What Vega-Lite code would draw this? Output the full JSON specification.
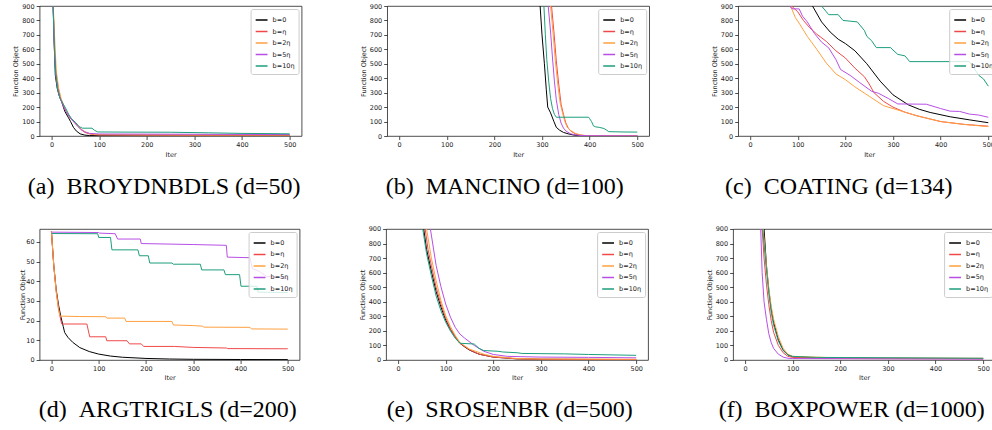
{
"$schema": "https://vega.github.io/schema/vega-lite/v6.json",
"background": "white",
"padding": {"left": 11.6, "top": 2, "right": 0, "bottom": 0},
"config": {
  "view": {"stroke": "#222", "strokeWidth": 0.8},
  "axis": {"labelFont": "DejaVu Sans", "labelFontSize": 6.5, "titleFont": "DejaVu Sans", "titleFontSize": 6.5, "titleFontWeight": "normal", "labelColor": "#222", "titleColor": "#222", "tickColor": "#222", "tickSize": 3.5, "tickWidth": 0.8, "domain": false, "grid": false, "labelPadding": 2, "titlePadding": 3},
  "legend": {"orient": "top-right", "offset": 3, "strokeColor": "#cccccc", "fillColor": "rgba(255,255,255,0.8)", "padding": 4, "cornerRadius": 2, "symbolType": "stroke", "symbolSize": 140, "symbolStrokeWidth": 1.5, "labelFont": "DejaVu Sans", "labelFontSize": 6.5, "labelColor": "#222", "rowPadding": 0.5},
  "title": {"font": "Liberation Serif", "fontSize": 24, "fontWeight": "normal", "color": "black", "orient": "bottom", "anchor": "middle", "frame": "bounds", "offset": 17}
},
"datasets": {
"a": [
{"s":"b=0","x":0,"y":3000},{"s":"b=0","x":3,"y":950},{"s":"b=0","x":5,"y":700},{"s":"b=0","x":8,"y":420},{"s":"b=0","x":12,"y":330},{"s":"b=0","x":16,"y":280},{"s":"b=0","x":21,"y":240},{"s":"b=0","x":28,"y":170},{"s":"b=0","x":35,"y":130},{"s":"b=0","x":40,"y":100},{"s":"b=0","x":46,"y":60},{"s":"b=0","x":52,"y":35},{"s":"b=0","x":60,"y":15},{"s":"b=0","x":70,"y":6},{"s":"b=0","x":80,"y":3},{"s":"b=0","x":100,"y":2},{"s":"b=0","x":200,"y":1},{"s":"b=0","x":500,"y":1},
{"s":"b=η","x":0,"y":3000},{"s":"b=η","x":3,"y":950},{"s":"b=η","x":6,"y":650},{"s":"b=η","x":9,"y":450},{"s":"b=η","x":14,"y":330},{"s":"b=η","x":20,"y":250},{"s":"b=η","x":25,"y":210},{"s":"b=η","x":32,"y":160},{"s":"b=η","x":40,"y":120},{"s":"b=η","x":48,"y":95},{"s":"b=η","x":55,"y":70},{"s":"b=η","x":62,"y":45},{"s":"b=η","x":70,"y":25},{"s":"b=η","x":80,"y":14},{"s":"b=η","x":90,"y":9},{"s":"b=η","x":100,"y":8},{"s":"b=η","x":200,"y":7},{"s":"b=η","x":300,"y":6},{"s":"b=η","x":500,"y":6},
{"s":"b=2η","x":0,"y":3000},{"s":"b=2η","x":3,"y":950},{"s":"b=2η","x":7,"y":650},{"s":"b=2η","x":10,"y":450},{"s":"b=2η","x":15,"y":330},{"s":"b=2η","x":20,"y":260},{"s":"b=2η","x":26,"y":210},{"s":"b=2η","x":32,"y":165},{"s":"b=2η","x":40,"y":125},{"s":"b=2η","x":48,"y":100},{"s":"b=2η","x":55,"y":75},{"s":"b=2η","x":62,"y":48},{"s":"b=2η","x":70,"y":30},{"s":"b=2η","x":80,"y":17},{"s":"b=2η","x":90,"y":11},{"s":"b=2η","x":100,"y":9},{"s":"b=2η","x":200,"y":8},{"s":"b=2η","x":300,"y":7},{"s":"b=2η","x":500,"y":7},
{"s":"b=5η","x":0,"y":3000},{"s":"b=5η","x":3,"y":950},{"s":"b=5η","x":6,"y":600},{"s":"b=5η","x":9,"y":420},{"s":"b=5η","x":13,"y":330},{"s":"b=5η","x":18,"y":260},{"s":"b=5η","x":24,"y":215},{"s":"b=5η","x":30,"y":170},{"s":"b=5η","x":38,"y":130},{"s":"b=5η","x":46,"y":100},{"s":"b=5η","x":54,"y":70},{"s":"b=5η","x":62,"y":45},{"s":"b=5η","x":70,"y":28},{"s":"b=5η","x":80,"y":18},{"s":"b=5η","x":100,"y":14},{"s":"b=5η","x":200,"y":13},{"s":"b=5η","x":300,"y":12},{"s":"b=5η","x":400,"y":11},{"s":"b=5η","x":500,"y":10},
{"s":"b=10η","x":0,"y":3000},{"s":"b=10η","x":3,"y":950},{"s":"b=10η","x":6,"y":620},{"s":"b=10η","x":9,"y":430},{"s":"b=10η","x":13,"y":320},{"s":"b=10η","x":18,"y":260},{"s":"b=10η","x":24,"y":225},{"s":"b=10η","x":30,"y":190},{"s":"b=10η","x":36,"y":150},{"s":"b=10η","x":42,"y":120},{"s":"b=10η","x":50,"y":95},{"s":"b=10η","x":58,"y":65},{"s":"b=10η","x":65,"y":54},{"s":"b=10η","x":85,"y":54},{"s":"b=10η","x":90,"y":40},{"s":"b=10η","x":97,"y":28},{"s":"b=10η","x":150,"y":27},{"s":"b=10η","x":250,"y":26},{"s":"b=10η","x":330,"y":22},{"s":"b=10η","x":400,"y":18},{"s":"b=10η","x":480,"y":16},{"s":"b=10η","x":500,"y":15}
],
"b": [
{"s":"b=0","x":290,"y":1500},{"s":"b=0","x":296,"y":900},{"s":"b=0","x":300,"y":700},{"s":"b=0","x":305,"y":500},{"s":"b=0","x":309,"y":320},{"s":"b=0","x":312,"y":200},{"s":"b=0","x":318,"y":160},{"s":"b=0","x":325,"y":100},{"s":"b=0","x":330,"y":60},{"s":"b=0","x":337,"y":40},{"s":"b=0","x":345,"y":25},{"s":"b=0","x":355,"y":15},{"s":"b=0","x":365,"y":8},{"s":"b=0","x":375,"y":3},{"s":"b=0","x":385,"y":1},{"s":"b=0","x":500,"y":0.5},
{"s":"b=η","x":314,"y":1500},{"s":"b=η","x":320,"y":900},{"s":"b=η","x":325,"y":720},{"s":"b=η","x":330,"y":520},{"s":"b=η","x":335,"y":360},{"s":"b=η","x":340,"y":220},{"s":"b=η","x":345,"y":150},{"s":"b=η","x":350,"y":90},{"s":"b=η","x":355,"y":55},{"s":"b=η","x":360,"y":35},{"s":"b=η","x":370,"y":15},{"s":"b=η","x":380,"y":6},{"s":"b=η","x":390,"y":3},{"s":"b=η","x":400,"y":2},{"s":"b=η","x":500,"y":1},
{"s":"b=2η","x":312,"y":1500},{"s":"b=2η","x":318,"y":900},{"s":"b=2η","x":323,"y":720},{"s":"b=2η","x":328,"y":520},{"s":"b=2η","x":333,"y":360},{"s":"b=2η","x":338,"y":230},{"s":"b=2η","x":343,"y":160},{"s":"b=2η","x":348,"y":100},{"s":"b=2η","x":353,"y":60},{"s":"b=2η","x":360,"y":38},{"s":"b=2η","x":370,"y":18},{"s":"b=2η","x":380,"y":8},{"s":"b=2η","x":390,"y":4},{"s":"b=2η","x":400,"y":2},{"s":"b=2η","x":500,"y":1},
{"s":"b=5η","x":308,"y":1500},{"s":"b=5η","x":313,"y":900},{"s":"b=5η","x":318,"y":720},{"s":"b=5η","x":322,"y":540},{"s":"b=5η","x":326,"y":380},{"s":"b=5η","x":330,"y":250},{"s":"b=5η","x":335,"y":150},{"s":"b=5η","x":340,"y":90},{"s":"b=5η","x":345,"y":55},{"s":"b=5η","x":350,"y":35},{"s":"b=5η","x":360,"y":15},{"s":"b=5η","x":370,"y":8},{"s":"b=5η","x":380,"y":4},{"s":"b=5η","x":400,"y":2},{"s":"b=5η","x":500,"y":1},
{"s":"b=10η","x":298,"y":1500},{"s":"b=10η","x":304,"y":900},{"s":"b=10η","x":307,"y":700},{"s":"b=10η","x":310,"y":530},{"s":"b=10η","x":314,"y":380},{"s":"b=10η","x":318,"y":260},{"s":"b=10η","x":322,"y":190},{"s":"b=10η","x":326,"y":150},{"s":"b=10η","x":330,"y":130},{"s":"b=10η","x":398,"y":130},{"s":"b=10η","x":400,"y":120},{"s":"b=10η","x":404,"y":100},{"s":"b=10η","x":408,"y":70},{"s":"b=10η","x":413,"y":63},{"s":"b=10η","x":420,"y":60},{"s":"b=10η","x":430,"y":52},{"s":"b=10η","x":435,"y":42},{"s":"b=10η","x":440,"y":30},{"s":"b=10η","x":470,"y":28},{"s":"b=10η","x":500,"y":27}
],
"c": [
{"s":"b=0","x":120,"y":1050},{"s":"b=0","x":131,"y":900},{"s":"b=0","x":150,"y":790},{"s":"b=0","x":168,"y":720},{"s":"b=0","x":185,"y":670},{"s":"b=0","x":200,"y":640},{"s":"b=0","x":220,"y":590},{"s":"b=0","x":245,"y":500},{"s":"b=0","x":273,"y":380},{"s":"b=0","x":300,"y":285},{"s":"b=0","x":332,"y":216},{"s":"b=0","x":355,"y":185},{"s":"b=0","x":378,"y":163},{"s":"b=0","x":420,"y":133},{"s":"b=0","x":460,"y":112},{"s":"b=0","x":500,"y":92},
{"s":"b=η","x":80,"y":1000},{"s":"b=η","x":87,"y":900},{"s":"b=η","x":100,"y":860},{"s":"b=η","x":112,"y":800},{"s":"b=η","x":125,"y":750},{"s":"b=η","x":140,"y":705},{"s":"b=η","x":160,"y":655},{"s":"b=η","x":180,"y":590},{"s":"b=η","x":200,"y":540},{"s":"b=η","x":220,"y":470},{"s":"b=η","x":240,"y":410},{"s":"b=η","x":250,"y":360},{"s":"b=η","x":260,"y":300},{"s":"b=η","x":280,"y":240},{"s":"b=η","x":300,"y":200},{"s":"b=η","x":325,"y":165},{"s":"b=η","x":350,"y":140},{"s":"b=η","x":400,"y":100},{"s":"b=η","x":450,"y":80},{"s":"b=η","x":500,"y":68},
{"s":"b=2η","x":78,"y":1000},{"s":"b=2η","x":85,"y":900},{"s":"b=2η","x":95,"y":820},{"s":"b=2η","x":105,"y":770},{"s":"b=2η","x":120,"y":690},{"s":"b=2η","x":140,"y":600},{"s":"b=2η","x":160,"y":505},{"s":"b=2η","x":180,"y":430},{"s":"b=2η","x":200,"y":390},{"s":"b=2η","x":220,"y":340},{"s":"b=2η","x":250,"y":275},{"s":"b=2η","x":280,"y":210},{"s":"b=2η","x":300,"y":190},{"s":"b=2η","x":350,"y":140},{"s":"b=2η","x":400,"y":100},{"s":"b=2η","x":450,"y":80},{"s":"b=2η","x":500,"y":65},
{"s":"b=5η","x":78,"y":1000},{"s":"b=5η","x":85,"y":890},{"s":"b=5η","x":90,"y":880},{"s":"b=5η","x":103,"y":880},{"s":"b=5η","x":110,"y":830},{"s":"b=5η","x":120,"y":790},{"s":"b=5η","x":135,"y":710},{"s":"b=5η","x":150,"y":650},{"s":"b=5η","x":165,"y":610},{"s":"b=5η","x":180,"y":530},{"s":"b=5η","x":190,"y":460},{"s":"b=5η","x":210,"y":420},{"s":"b=5η","x":230,"y":370},{"s":"b=5η","x":255,"y":310},{"s":"b=5η","x":270,"y":295},{"s":"b=5η","x":290,"y":260},{"s":"b=5η","x":310,"y":222},{"s":"b=5η","x":370,"y":220},{"s":"b=5η","x":400,"y":190},{"s":"b=5η","x":420,"y":172},{"s":"b=5η","x":440,"y":170},{"s":"b=5η","x":460,"y":152},{"s":"b=5η","x":480,"y":145},{"s":"b=5η","x":500,"y":130},
{"s":"b=10η","x":140,"y":1050},{"s":"b=10η","x":150,"y":900},{"s":"b=10η","x":160,"y":860},{"s":"b=10η","x":165,"y":840},{"s":"b=10η","x":185,"y":840},{"s":"b=10η","x":195,"y":800},{"s":"b=10η","x":225,"y":790},{"s":"b=10η","x":240,"y":730},{"s":"b=10η","x":245,"y":690},{"s":"b=10η","x":255,"y":660},{"s":"b=10η","x":265,"y":612},{"s":"b=10η","x":295,"y":612},{"s":"b=10η","x":300,"y":595},{"s":"b=10η","x":310,"y":565},{"s":"b=10η","x":325,"y":555},{"s":"b=10η","x":335,"y":515},{"s":"b=10η","x":460,"y":515},{"s":"b=10η","x":470,"y":470},{"s":"b=10η","x":480,"y":420},{"s":"b=10η","x":490,"y":395},{"s":"b=10η","x":500,"y":345}
],
"d": [
{"s":"b=0","x":0,"y":65.5},{"s":"b=0","x":5,"y":48},{"s":"b=0","x":10,"y":36},{"s":"b=0","x":15,"y":28},{"s":"b=0","x":20,"y":22},{"s":"b=0","x":25,"y":17},{"s":"b=0","x":28,"y":14},{"s":"b=0","x":35,"y":11.5},{"s":"b=0","x":45,"y":9},{"s":"b=0","x":60,"y":6.3},{"s":"b=0","x":80,"y":4.3},{"s":"b=0","x":100,"y":3},{"s":"b=0","x":125,"y":2},{"s":"b=0","x":150,"y":1.4},{"s":"b=0","x":200,"y":0.8},{"s":"b=0","x":250,"y":0.5},{"s":"b=0","x":300,"y":0.35},{"s":"b=0","x":400,"y":0.25},{"s":"b=0","x":500,"y":0.2},
{"s":"b=η","x":0,"y":65.5},{"s":"b=η","x":5,"y":48},{"s":"b=η","x":10,"y":35},{"s":"b=η","x":15,"y":26},{"s":"b=η","x":20,"y":20},{"s":"b=η","x":22,"y":18.3},{"s":"b=η","x":75,"y":18.3},{"s":"b=η","x":81,"y":11.8},{"s":"b=η","x":115,"y":11.8},{"s":"b=η","x":117,"y":9.8},{"s":"b=η","x":160,"y":9.8},{"s":"b=η","x":165,"y":8.2},{"s":"b=η","x":190,"y":8.2},{"s":"b=η","x":195,"y":6.9},{"s":"b=η","x":260,"y":6.9},{"s":"b=η","x":300,"y":6.4},{"s":"b=η","x":370,"y":6.1},{"s":"b=η","x":372,"y":5.8},{"s":"b=η","x":500,"y":5.7},
{"s":"b=2η","x":0,"y":65.5},{"s":"b=2η","x":5,"y":48},{"s":"b=2η","x":10,"y":35},{"s":"b=2η","x":15,"y":26},{"s":"b=2η","x":18,"y":22.3},{"s":"b=2η","x":60,"y":22.1},{"s":"b=2η","x":115,"y":22},{"s":"b=2η","x":117,"y":21.3},{"s":"b=2η","x":155,"y":21.3},{"s":"b=2η","x":158,"y":19.6},{"s":"b=2η","x":255,"y":19.6},{"s":"b=2η","x":258,"y":17.8},{"s":"b=2η","x":300,"y":17.5},{"s":"b=2η","x":320,"y":17.2},{"s":"b=2η","x":322,"y":16.7},{"s":"b=2η","x":420,"y":16.6},{"s":"b=2η","x":423,"y":15.8},{"s":"b=2η","x":500,"y":15.7},
{"s":"b=5η","x":0,"y":65},{"s":"b=5η","x":100,"y":64.8},{"s":"b=5η","x":102,"y":64.5},{"s":"b=5η","x":135,"y":64.2},{"s":"b=5η","x":140,"y":61.5},{"s":"b=5η","x":188,"y":61.5},{"s":"b=5η","x":190,"y":59.2},{"s":"b=5η","x":300,"y":58.7},{"s":"b=5η","x":370,"y":58.3},{"s":"b=5η","x":372,"y":52.3},{"s":"b=5η","x":420,"y":52},{"s":"b=5η","x":425,"y":46.5},{"s":"b=5η","x":440,"y":45},{"s":"b=5η","x":455,"y":42.5},{"s":"b=5η","x":500,"y":41.5},
{"s":"b=10η","x":0,"y":64.3},{"s":"b=10η","x":98,"y":64.2},{"s":"b=10η","x":100,"y":62.3},{"s":"b=10η","x":125,"y":62.3},{"s":"b=10η","x":128,"y":56},{"s":"b=10η","x":183,"y":56},{"s":"b=10η","x":186,"y":53},{"s":"b=10η","x":205,"y":53},{"s":"b=10η","x":208,"y":49.3},{"s":"b=10η","x":255,"y":49.3},{"s":"b=10η","x":258,"y":48.7},{"s":"b=10η","x":315,"y":48.7},{"s":"b=10η","x":318,"y":45.8},{"s":"b=10η","x":365,"y":45.8},{"s":"b=10η","x":368,"y":43.4},{"s":"b=10η","x":398,"y":43.4},{"s":"b=10η","x":401,"y":37.5},{"s":"b=10η","x":435,"y":37.5},{"s":"b=10η","x":437,"y":34.5},{"s":"b=10η","x":500,"y":34.3}
],
"e": [
{"s":"b=0","x":48,"y":1100},{"s":"b=0","x":54,"y":900},{"s":"b=0","x":60,"y":760},{"s":"b=0","x":70,"y":610},{"s":"b=0","x":80,"y":470},{"s":"b=0","x":90,"y":365},{"s":"b=0","x":100,"y":275},{"s":"b=0","x":110,"y":210},{"s":"b=0","x":120,"y":160},{"s":"b=0","x":130,"y":115},{"s":"b=0","x":140,"y":90},{"s":"b=0","x":150,"y":68},{"s":"b=0","x":170,"y":40},{"s":"b=0","x":200,"y":20},{"s":"b=0","x":250,"y":8},{"s":"b=0","x":300,"y":5},{"s":"b=0","x":500,"y":3},
{"s":"b=η","x":51,"y":1100},{"s":"b=η","x":57,"y":900},{"s":"b=η","x":63,"y":760},{"s":"b=η","x":70,"y":650},{"s":"b=η","x":80,"y":500},{"s":"b=η","x":90,"y":385},{"s":"b=η","x":100,"y":290},{"s":"b=η","x":110,"y":215},{"s":"b=η","x":120,"y":160},{"s":"b=η","x":130,"y":115},{"s":"b=η","x":150,"y":70},{"s":"b=η","x":170,"y":40},{"s":"b=η","x":200,"y":20},{"s":"b=η","x":250,"y":8},{"s":"b=η","x":300,"y":5},{"s":"b=η","x":500,"y":3},
{"s":"b=2η","x":54,"y":1100},{"s":"b=2η","x":60,"y":900},{"s":"b=2η","x":70,"y":700},{"s":"b=2η","x":80,"y":545},{"s":"b=2η","x":90,"y":410},{"s":"b=2η","x":100,"y":305},{"s":"b=2η","x":110,"y":230},{"s":"b=2η","x":120,"y":170},{"s":"b=2η","x":130,"y":120},{"s":"b=2η","x":150,"y":75},{"s":"b=2η","x":180,"y":40},{"s":"b=2η","x":200,"y":25},{"s":"b=2η","x":250,"y":10},{"s":"b=2η","x":300,"y":7},{"s":"b=2η","x":500,"y":5},
{"s":"b=5η","x":62,"y":1100},{"s":"b=5η","x":68,"y":900},{"s":"b=5η","x":80,"y":650},{"s":"b=5η","x":90,"y":505},{"s":"b=5η","x":100,"y":385},{"s":"b=5η","x":110,"y":295},{"s":"b=5η","x":120,"y":225},{"s":"b=5η","x":130,"y":178},{"s":"b=5η","x":140,"y":150},{"s":"b=5η","x":160,"y":100},{"s":"b=5η","x":180,"y":60},{"s":"b=5η","x":200,"y":38},{"s":"b=5η","x":230,"y":25},{"s":"b=5η","x":300,"y":20},{"s":"b=5η","x":400,"y":18},{"s":"b=5η","x":500,"y":15},
{"s":"b=10η","x":47,"y":1100},{"s":"b=10η","x":52,"y":900},{"s":"b=10η","x":60,"y":730},{"s":"b=10η","x":70,"y":580},{"s":"b=10η","x":80,"y":440},{"s":"b=10η","x":90,"y":340},{"s":"b=10η","x":100,"y":260},{"s":"b=10η","x":110,"y":200},{"s":"b=10η","x":120,"y":150},{"s":"b=10η","x":130,"y":115},{"s":"b=10η","x":160,"y":110},{"s":"b=10η","x":170,"y":80},{"s":"b=10η","x":180,"y":65},{"s":"b=10η","x":210,"y":60},{"s":"b=10η","x":220,"y":55},{"s":"b=10η","x":250,"y":50},{"s":"b=10η","x":260,"y":45},{"s":"b=10η","x":350,"y":42},{"s":"b=10η","x":400,"y":38},{"s":"b=10η","x":500,"y":32}
],
"f": [
{"s":"b=0","x":37,"y":1100},{"s":"b=0","x":40,"y":900},{"s":"b=0","x":45,"y":650},{"s":"b=0","x":50,"y":480},{"s":"b=0","x":55,"y":350},{"s":"b=0","x":60,"y":260},{"s":"b=0","x":70,"y":140},{"s":"b=0","x":80,"y":70},{"s":"b=0","x":90,"y":35},{"s":"b=0","x":100,"y":22},{"s":"b=0","x":150,"y":15},{"s":"b=0","x":200,"y":12},{"s":"b=0","x":500,"y":10},
{"s":"b=η","x":33,"y":1100},{"s":"b=η","x":36,"y":900},{"s":"b=η","x":40,"y":700},{"s":"b=η","x":45,"y":520},{"s":"b=η","x":50,"y":380},{"s":"b=η","x":55,"y":270},{"s":"b=η","x":60,"y":190},{"s":"b=η","x":70,"y":100},{"s":"b=η","x":80,"y":50},{"s":"b=η","x":90,"y":25},{"s":"b=η","x":100,"y":18},{"s":"b=η","x":200,"y":10},{"s":"b=η","x":500,"y":8},
{"s":"b=2η","x":35,"y":1100},{"s":"b=2η","x":38,"y":900},{"s":"b=2η","x":45,"y":650},{"s":"b=2η","x":50,"y":490},{"s":"b=2η","x":55,"y":370},{"s":"b=2η","x":60,"y":280},{"s":"b=2η","x":70,"y":160},{"s":"b=2η","x":80,"y":80},{"s":"b=2η","x":90,"y":40},{"s":"b=2η","x":100,"y":25},{"s":"b=2η","x":200,"y":14},{"s":"b=2η","x":500,"y":12},
{"s":"b=5η","x":31,"y":1100},{"s":"b=5η","x":33,"y":900},{"s":"b=5η","x":36,"y":600},{"s":"b=5η","x":40,"y":400},{"s":"b=5η","x":45,"y":280},{"s":"b=5η","x":50,"y":180},{"s":"b=5η","x":55,"y":120},{"s":"b=5η","x":60,"y":80},{"s":"b=5η","x":70,"y":40},{"s":"b=5η","x":80,"y":20},{"s":"b=5η","x":90,"y":12},{"s":"b=5η","x":100,"y":10},{"s":"b=5η","x":500,"y":6},
{"s":"b=10η","x":34,"y":1100},{"s":"b=10η","x":37,"y":900},{"s":"b=10η","x":45,"y":620},{"s":"b=10η","x":50,"y":460},{"s":"b=10η","x":55,"y":330},{"s":"b=10η","x":60,"y":240},{"s":"b=10η","x":70,"y":130},{"s":"b=10η","x":80,"y":65},{"s":"b=10η","x":90,"y":35},{"s":"b=10η","x":100,"y":25},{"s":"b=10η","x":150,"y":18},{"s":"b=10η","x":500,"y":12}
]
},
"resolve": {"scale": {"color": "independent"}},
"spacing": 26,
"vconcat": [
{"hconcat": [
 {"hconcat": [
 {"width": 262, "height": 130, "title": {"text": "(a)\u00a0\u00a0BROYDNBDLS (d=50)", "dx": 7}, "data": {"name": "a"}, "mark": {"type": "line", "clip": true, "strokeWidth": 1},
  "encoding": {"x": {"field": "x", "type": "quantitative", "scale": {"domain": [-25, 525], "nice": false, "zero": false}, "axis": {"values": [0,100,200,300,400,500], "title": "Iter"}},
   "y": {"field": "y", "type": "quantitative", "scale": {"domain": [0, 900], "nice": false}, "axis": {"values": [0,100,200,300,400,500,600,700,800,900], "title": "Function Object"}},
   "color": {"field": "s", "type": "nominal", "sort": null, "scale": {"domain": ["b=0","b=η","b=2η","b=5η","b=10η"], "range": ["#000000","#f04848","#ffa040","#b84ee6","#1c9e7c"]}, "legend": {"title": null}}}},
 {"width": 262, "height": 130, "title": {"text": "(b)\u00a0\u00a0MANCINO (d=100)", "dx": 0}, "data": {"name": "b"}, "mark": {"type": "line", "clip": true, "strokeWidth": 1},
  "encoding": {"x": {"field": "x", "type": "quantitative", "scale": {"domain": [-25, 525], "nice": false, "zero": false}, "axis": {"values": [0,100,200,300,400,500], "title": "Iter"}},
   "y": {"field": "y", "type": "quantitative", "scale": {"domain": [0, 900], "nice": false}, "axis": {"values": [0,100,200,300,400,500,600,700,800,900], "title": "Function Object"}},
   "color": {"field": "s", "type": "nominal", "sort": null, "scale": {"domain": ["b=0","b=η","b=2η","b=5η","b=10η"], "range": ["#000000","#f04848","#ffa040","#b84ee6","#1c9e7c"]}, "legend": {"title": null}}}}
 ], "spacing": 56.6, "resolve": {"scale": {"color": "independent"}}},
 {"width": 262, "height": 130, "title": {"text": "(c)\u00a0\u00a0COATING (d=134)", "dx": -17}, "data": {"name": "c"}, "mark": {"type": "line", "clip": true, "strokeWidth": 1},
  "encoding": {"x": {"field": "x", "type": "quantitative", "scale": {"domain": [-25, 525], "nice": false, "zero": false}, "axis": {"values": [0,100,200,300,400,500], "title": "Iter"}},
   "y": {"field": "y", "type": "quantitative", "scale": {"domain": [0, 900], "nice": false}, "axis": {"values": [0,100,200,300,400,500,600,700,800,900], "title": "Function Object"}},
   "color": {"field": "s", "type": "nominal", "sort": null, "scale": {"domain": ["b=0","b=η","b=2η","b=5η","b=10η"], "range": ["#000000","#f04848","#ffa040","#b84ee6","#1c9e7c"]}, "legend": {"title": null}}}}
 ], "spacing": 60.6, "resolve": {"scale": {"color": "independent"}}},
{"hconcat": [
 {"hconcat": [
 {"width": 260, "height": 131, "title": {"text": "(d)\u00a0\u00a0ARGTRIGLS (d=200)", "dx": 8}, "data": {"name": "d"}, "mark": {"type": "line", "clip": true, "strokeWidth": 1},
  "encoding": {"x": {"field": "x", "type": "quantitative", "scale": {"domain": [-25, 525], "nice": false, "zero": false}, "axis": {"values": [0,100,200,300,400,500], "title": "Iter"}},
   "y": {"field": "y", "type": "quantitative", "scale": {"domain": [0, 66.6], "nice": false}, "axis": {"values": [0,10,20,30,40,50,60], "title": "Function Object", "titlePadding": 0}},
   "color": {"field": "s", "type": "nominal", "sort": null, "scale": {"domain": ["b=0","b=η","b=2η","b=5η","b=10η"], "range": ["#000000","#f04848","#ffa040","#b84ee6","#1c9e7c"]}, "legend": {"title": null}}}},
 {"width": 262, "height": 131, "title": {"text": "(e)\u00a0\u00a0SROSENBR (d=500)", "dx": 6}, "data": {"name": "e"}, "mark": {"type": "line", "clip": true, "strokeWidth": 1},
  "encoding": {"x": {"field": "x", "type": "quantitative", "scale": {"domain": [-25, 525], "nice": false, "zero": false}, "axis": {"values": [0,100,200,300,400,500], "title": "Iter"}},
   "y": {"field": "y", "type": "quantitative", "scale": {"domain": [0, 900], "nice": false}, "axis": {"values": [0,100,200,300,400,500,600,700,800,900], "title": "Function Object"}},
   "color": {"field": "s", "type": "nominal", "sort": null, "scale": {"domain": ["b=0","b=η","b=2η","b=5η","b=10η"], "range": ["#000000","#f04848","#ffa040","#b84ee6","#1c9e7c"]}, "legend": {"title": null}}}}
 ], "spacing": 57.5, "resolve": {"scale": {"color": "independent"}}},
 {"width": 262, "height": 131, "title": {"text": "(f)\u00a0\u00a0BOXPOWER (d=1000)", "dx": 1}, "data": {"name": "f"}, "mark": {"type": "line", "clip": true, "strokeWidth": 1},
  "encoding": {"x": {"field": "x", "type": "quantitative", "scale": {"domain": [-25, 525], "nice": false, "zero": false}, "axis": {"values": [0,100,200,300,400,500], "title": "Iter"}},
   "y": {"field": "y", "type": "quantitative", "scale": {"domain": [0, 900], "nice": false}, "axis": {"values": [0,100,200,300,400,500,600,700,800,900], "title": "Function Object"}},
   "color": {"field": "s", "type": "nominal", "sort": null, "scale": {"domain": ["b=0","b=η","b=2η","b=5η","b=10η"], "range": ["#000000","#f04848","#ffa040","#b84ee6","#1c9e7c"]}, "legend": {"title": null}}}}
 ], "spacing": 56.5, "resolve": {"scale": {"color": "independent"}}}
]
}
